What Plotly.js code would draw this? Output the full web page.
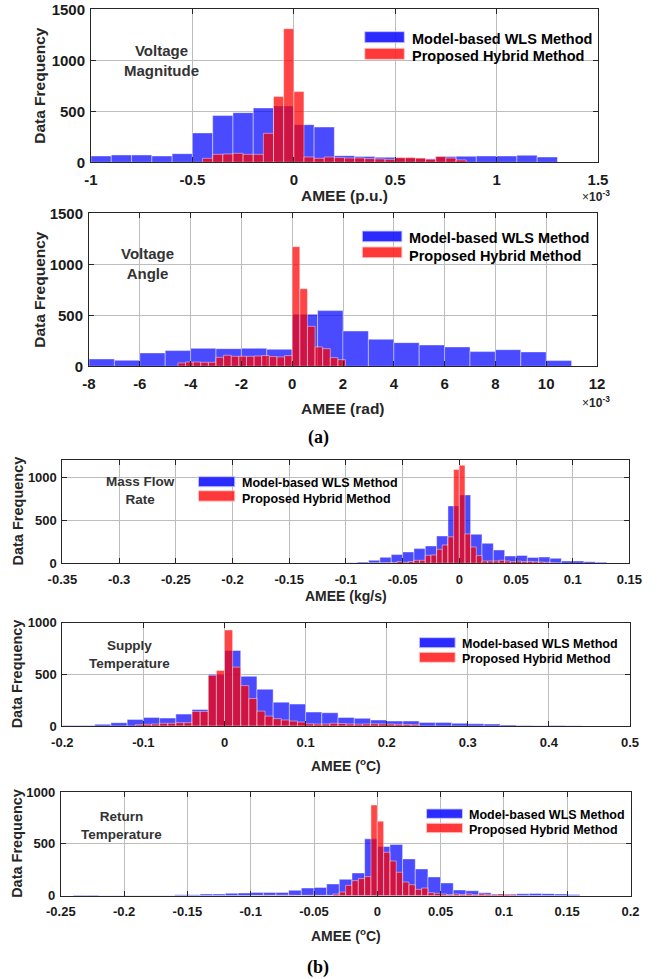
<!DOCTYPE html>
<html>
<head>
<meta charset="utf-8">
<script src="https://cdn.plot.ly/plotly-3.0.1.min.js"></script>
<style>html,body{margin:0;padding:0;background:#fff;}#chart{width:664px;height:979px;}</style>
</head>
<body>
<div id="chart"></div>
<script>
// ---------- DATA (x values of panels a in units of 1e-3) ----------
// Panel 1: Voltage Magnitude
const vmBlueStart = -1.0, vmBlueWidth = 0.1;
const vmBlueCounts = [62,72,72,62,85,288,458,487,533,552,369,346,65,56,49,42,36,56,59,62,62,69,52];
const vmRedStart = -0.45, vmRedWidth = 0.05;
const vmRedCounts = [39,78,82,88,78,78,284,644,1310,693,52,39,52,46,42,42,36,33,29,46,46,42,29,56,42,23];
// Panel 2: Voltage Angle
const vaBlueStart = -8, vaBlueWidth = 1;
const vaBlueCounts = [72,59,131,154,176,173,176,167,510,546,346,265,232,209,190,144,163,141,56];
const vaRedStart = -4.5, vaRedWidth = 0.3;
const vaRedCounts = [33,42,42,39,39,88,108,98,98,98,101,105,95,92,105,1173,761,392,190,173,85,65];
// Panel 3: Mass Flow Rate
const mfBlueStart = -0.23, mfBlueWidth = 0.01;
const mfBlueCounts = [3,3,4,3,1,1,1,1,1,2,2,3,4,6,16,35,70,102,133,172,203,320,672,801,340,234,156,85,92,69,73,58,27,27,19,12];
const mfRedStart = -0.15, mfRedWidth = 0.005;
const mfRedCounts = [2,2,2,1,1,1,1,1,2,2,3,4,3,3,4,5,6,8,10,20,12,20,35,35,94,98,164,215,310,1098,1148,344,191,90,27,27,27,35,27,20,25,20,22,18,15,12,6,3];
// Panel 4: Supply Temperature
const stBlueStart = -0.2, stBlueWidth = 0.02;
const stBlueCounts = [6,6,16,32,64,83,77,115,160,500,731,481,356,231,212,135,128,83,74,58,48,48,35,35,26,22,19,10,6,3,6,3];
const stRedStart = -0.11, stRedWidth = 0.01;
const stRedCounts = [13,16,19,26,26,32,32,141,141,490,538,929,570,391,266,144,96,71,58,48,38,22,19,20,26,24,20,18,20,22,20,18,16,15,12];
// Panel 5: Return Temperature
const rtBlueStart = -0.24, rtBlueWidth = 0.01;
const rtBlueCounts = [6,6,3,3,3,3,3,3,10,10,16,16,23,26,32,32,32,52,74,80,113,158,219,548,474,494,355,258,181,123,55,48,29,16,16,19,22,20,16,12];
const rtRedStart = -0.1, rtRedWidth = 0.005;
const rtRedCounts = [3,3,4,3,4,5,4,3,3,4,3,3,3,16,35,100,145,165,184,874,719,419,335,226,132,106,61,74,29,23,16,10,16,12,16,10,16,13,10,16,12,8];

// Tick labels
const p1XTicks = [-1,-0.5,0,0.5,1,1.5], p1XText = ['-1','-0.5','0','0.5','1','1.5'];
const p2XTicks = [-8,-6,-4,-2,0,2,4,6,8,10,12], p2XText = ['-8','-6','-4','-2','0','2','4','6','8','10','12'];
const p3XTicks = [-0.35,-0.3,-0.25,-0.2,-0.15,-0.1,-0.05,0,0.05,0.1,0.15];
const p3XText = ['-0.35','-0.3','-0.25','-0.2','-0.15','-0.1','-0.05','0','0.05','0.1','0.15'];
const p4XTicks = [-0.2,-0.1,0,0.1,0.2,0.3,0.4,0.5], p4XText = ['-0.2','-0.1','0','0.1','0.2','0.3','0.4','0.5'];
const p5XTicks = [-0.25,-0.2,-0.15,-0.1,-0.05,0,0.05,0.1,0.15,0.2];
const p5XText = ['-0.25','-0.2','-0.15','-0.1','-0.05','0','0.05','0.1','0.15','0.2'];
const yTicksA = [0,500,1000,1500], yTicksB = [0,500,1000];

const panelLabels = ['Voltage<br>Magnitude','Voltage<br>Angle','Mass Flow<br>Rate','Supply<br>Temperature','Return<br>Temperature'];
const xTitles = ['AMEE (p.u.)','AMEE (rad)','AMEE (kg/s)','AMEE (<sup>o</sup>C)','AMEE (<sup>o</sup>C)'];
const seriesNames = ['Model-based WLS Method','Proposed Hybrid Method'];

// ---------- STYLE ----------
const W = 664, H = 979;
const FONT = 'Liberation Sans, Arial, sans-serif';
const BLUE = 'rgba(0,0,255,0.71)', RED = 'rgba(255,0,0,0.73)';
const EDGE = 'rgba(255,255,255,0.55)';
const px = v => v / W, py = v => 1 - v / H;

function bars(start, width, counts, color, idx) {
  const x = counts.map((_, i) => +(start + (i + 0.5) * width).toFixed(7));
  const s = idx === 1 ? '' : String(idx);
  return {type: 'bar', x: x, y: counts, width: counts.map(() => width),
    marker: {color: color, line: {color: EDGE, width: 0.8}},
    xaxis: 'x' + s, yaxis: 'y' + s, showlegend: false, hoverinfo: 'x+y'};
}

const data = [
  bars(vmBlueStart, vmBlueWidth, vmBlueCounts, BLUE, 1), bars(vmRedStart, vmRedWidth, vmRedCounts, RED, 1),
  bars(vaBlueStart, vaBlueWidth, vaBlueCounts, BLUE, 2), bars(vaRedStart, vaRedWidth, vaRedCounts, RED, 2),
  bars(mfBlueStart, mfBlueWidth, mfBlueCounts, BLUE, 3), bars(mfRedStart, mfRedWidth, mfRedCounts, RED, 3),
  bars(stBlueStart, stBlueWidth, stBlueCounts, BLUE, 4), bars(stRedStart, stRedWidth, stRedCounts, RED, 4),
  bars(rtBlueStart, rtBlueWidth, rtBlueCounts, BLUE, 5), bars(rtRedStart, rtRedWidth, rtRedCounts, RED, 5)
];

// panel geometry in pixels: [left, right, top, bottom]
const geo = [
  [91, 598, 9.3, 162.3],
  [89, 597, 213.3, 366.3],
  [62.4, 629.4, 459.7, 563.3],
  [62.3, 630, 622.7, 726],
  [60.8, 630.5, 792, 895.7]
];
const xr = [[-1,1.5],[-8,12],[-0.35,0.15],[-0.2,0.5],[-0.25,0.2]];
const yr = [[0,1500],[0,1500],[0,1213],[0,1000],[0,1000]];
const xt = [[p1XTicks,p1XText],[p2XTicks,p2XText],[p3XTicks,p3XText],[p4XTicks,p4XText],[p5XTicks,p5XText]];
const tickSize = [15,15,13,13,13];

const layout = {
  width: W, height: H, margin: {l:0,r:0,t:0,b:0},
  paper_bgcolor: '#fff', plot_bgcolor: '#fff',
  barmode: 'overlay', showlegend: false,
  font: {family: FONT, color: '#000'},
  shapes: [], annotations: []
};

for (let i = 0; i < 5; i++) {
  const s = i === 0 ? '' : String(i + 1);
  const g = geo[i];
  const common = {
    showline: true, mirror: 'ticks', linecolor: '#262626', linewidth: 1,
    ticks: 'inside', ticklen: 5, tickcolor: '#262626',
    showgrid: true, gridcolor: '#bdbdbd', gridwidth: 1, zeroline: false,
    tickfont: {family: FONT, size: tickSize[i], weight: 'bold', color: '#1a1a1a'},
    tickmode: 'array', fixedrange: true
  };
  layout['xaxis' + s] = Object.assign({}, common, {
    domain: [px(g[0]), px(g[1])], range: xr[i], anchor: 'y' + s,
    tickvals: xt[i][0], ticktext: xt[i][1], ticklabelstandoff: 4
  });
  layout['yaxis' + s] = Object.assign({}, common, {
    domain: [py(g[3]), py(g[2])], range: yr[i], anchor: 'x' + s,
    tickvals: i < 2 ? yTicksA : yTicksB, ticktext: (i < 2 ? yTicksA : yTicksB).map(String),
    ticklabelstandoff: 2
  });
}

// Axis titles
const xTitleY = [196, 409, 596, 765, 935];
const yTitleX = [40, 40, 17, 17, 17];
for (let i = 0; i < 5; i++) {
  const g = geo[i];
  const fsX = i < 2 ? 15.5 : 14;
  const fsY = i < 2 ? 15.5 : 14.5;
  layout.annotations.push({xref:'paper', yref:'paper', x: px((g[0]+g[1])/2), y: py(xTitleY[i]),
    text: xTitles[i], showarrow:false, xanchor:'center', yanchor:'middle',
    font:{family:FONT, size:fsX, weight:'bold', color:'#262626'}});
  layout.annotations.push({xref:'paper', yref:'paper', x: px(yTitleX[i]), y: py((g[2]+g[3])/2),
    text: 'Data Frequency', textangle: -90, showarrow:false, xanchor:'center', yanchor:'middle',
    font:{family:FONT, size:fsY, weight:'bold', color:'#262626'}});
}
// x10^-3 exponent labels
[[596,196],[596,402]].forEach(p => layout.annotations.push({xref:'paper', yref:'paper', x:px(p[0]), y:py(p[1]),
  text:'\u00d7<b>10</b><sup><b>-3</b></sup>', showarrow:false, xanchor:'center', yanchor:'middle',
  font:{family:FONT, size:12, color:'#262626'}}));

// Panel descriptions
const descPos = [[0.14,0.665],[0.115,0.674],[0.138,0.707],[0.118,0.695],[0.107,0.68]];
const descSize = [15,15,13.5,13.5,13.5];
for (let i = 0; i < 5; i++) {
  const s = i === 0 ? '' : String(i + 1);
  layout.annotations.push({xref:'x'+s+' domain', yref:'y'+s+' domain', x:descPos[i][0], y:descPos[i][1],
    text: panelLabels[i], showarrow:false, xanchor:'center', yanchor:'middle', align:'center',
    font:{family:FONT, size:descSize[i], weight:'bold', color:'#333'}});
}

// Legends (swatches + labels), positions as fractions of each axes box
// [swatchX0, swatchX1, textX, blueY0, blueY1, redY0, redY1, blueTextY, redTextY]
const leg = [
  [0.540,0.618,0.629, 0.782,0.854, 0.673,0.745, 0.807,0.693],
  [0.538,0.616,0.625, 0.814,0.884, 0.710,0.780, 0.840,0.723],
  [0.240,0.304,0.313, 0.739,0.836, 0.600,0.700, 0.778,0.620],
  [0.629,0.692,0.701, 0.758,0.855, 0.617,0.713, 0.791,0.646],
  [0.642,0.705,0.713, 0.746,0.836, 0.608,0.698, 0.778,0.634]
];
const legSize = [14.5,14.5,12.5,12.5,12.5];
for (let i = 0; i < 5; i++) {
  const s = i === 0 ? '' : String(i + 1);
  const L = leg[i];
  const xref = 'x'+s+' domain', yref = 'y'+s+' domain';
  layout.shapes.push({type:'rect', xref, yref, x0:L[0], x1:L[1], y0:L[3], y1:L[4],
    fillcolor:'rgba(20,20,255,0.9)', line:{color:'rgba(200,200,255,0.9)', width:1}});
  layout.shapes.push({type:'rect', xref, yref, x0:L[0], x1:L[1], y0:L[5], y1:L[6],
    fillcolor:'rgba(255,30,30,0.88)', line:{color:'rgba(255,200,200,0.9)', width:1}});
  layout.annotations.push({xref, yref, x:L[2], y:L[7], text:seriesNames[0], showarrow:false,
    xanchor:'left', yanchor:'middle', font:{family:FONT, size:legSize[i], weight:'bold', color:'#000'}});
  layout.annotations.push({xref, yref, x:L[2], y:L[8], text:seriesNames[1], showarrow:false,
    xanchor:'left', yanchor:'middle', font:{family:FONT, size:legSize[i], weight:'bold', color:'#000'}});
}

// (a) and (b)
[['(a)',318,437],['(b)',318,967]].forEach(t => layout.annotations.push({xref:'paper', yref:'paper',
  x:px(t[1]), y:py(t[2]), text:t[0], showarrow:false, xanchor:'center', yanchor:'middle',
  font:{family:'Liberation Serif, DejaVu Serif, serif', size:18, weight:'bold', color:'#000'}}));

Plotly.newPlot('chart', data, layout, {staticPlot:true, displayModeBar:false});
</script>
</body>
</html>
